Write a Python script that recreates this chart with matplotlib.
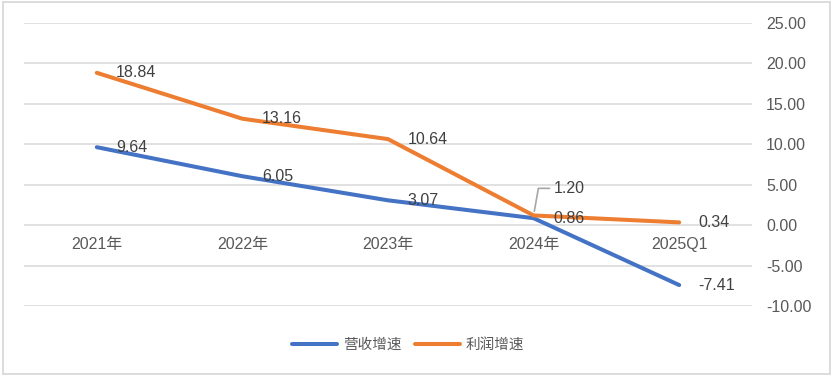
import matplotlib
matplotlib.use("Agg")
import matplotlib.pyplot as plt
from matplotlib.patches import Rectangle

plt.rcParams['font.family'] = ['Liberation Sans', 'Noto Sans CJK SC', 'DejaVu Sans']

categories = ["2021年", "2022年", "2023年", "2024年", "2025Q1"]
revenue_growth = [9.64, 6.05, 3.07, 0.86, -7.41]
profit_growth = [18.84, 13.16, 10.64, 1.20, 0.34]
series_names = ["营收增速", "利润增速"]
yticks = [-10, -5, 0, 5, 10, 15, 20, 25]

BLUE = "#4472C4"
ORANGE = "#ED7D31"
GRID = "#D9D9D9"
TICK = "#595959"
LABEL = "#404040"
FS = 11.5

fig = plt.figure(figsize=(8.34, 3.76), dpi=100)
fig.patches.append(Rectangle((0.003, 0.005), 0.992, 0.99, transform=fig.transFigure,
                             fill=False, edgecolor=GRID, lw=1.3))
ax = fig.add_axes([24/834, 1-306/376, (752-24)/834, (306-23)/376])

x = list(range(len(categories)))
ax.plot(x, revenue_growth, color=BLUE, lw=2.9, solid_capstyle='round', label=series_names[0], zorder=3)
ax.plot(x, profit_growth, color=ORANGE, lw=2.9, solid_capstyle='round', label=series_names[1], zorder=3)

ax.set_xlim(-0.5, len(categories) - 0.5)
ax.set_ylim(-10, 25)
ax.set_yticks(yticks)
ax.set_yticklabels([f"{v:.2f}" for v in yticks])
ax.yaxis.tick_right()
ax.tick_params(axis='y', length=0, pad=10, labelsize=FS, labelcolor=TICK)
ax.grid(axis='y', color=GRID, lw=1.1)
ax.set_axisbelow(True)
for s in ax.spines.values():
    s.set_visible(False)

ax.set_xticks([])
for xi, c in zip(x, categories):
    ax.annotate(c, (xi, 0), xytext=(0, -8.5), textcoords='offset points',
                ha='center', va='top', fontsize=FS, color=TICK)

def lab(xi, yi, dx=14, dy=0, **kw):
    ax.annotate(f"{yi:.2f}", (xi, yi), xytext=(dx, dy), textcoords='offset points',
                ha='left', va='center', fontsize=FS, color=LABEL, zorder=4, **kw)

for xi, yi in zip(x, revenue_growth):
    lab(xi, yi)
for xi, yi in zip(x, profit_growth):
    if xi == 3:
        lab(xi, yi, dx=14.5, dy=19.5,
            arrowprops=dict(arrowstyle='-', color='#A6A6A6', lw=1.2,
                            connectionstyle='angle,angleA=0,angleB=80,rad=0',
                            shrinkA=1, shrinkB=3, relpos=(0, 0.5)))
    else:
        lab(xi, yi)

leg = fig.legend(loc='center', bbox_to_anchor=(408/834, 1-345/376), ncol=2, frameon=False,
                 prop={'family': ['Noto Sans CJK SC'], 'size': 10.5},
                 handlelength=3.1, handletextpad=0.4, columnspacing=0.9)
for t in leg.get_texts():
    t.set_color(TICK)

fig.savefig("out.png", dpi=100)
